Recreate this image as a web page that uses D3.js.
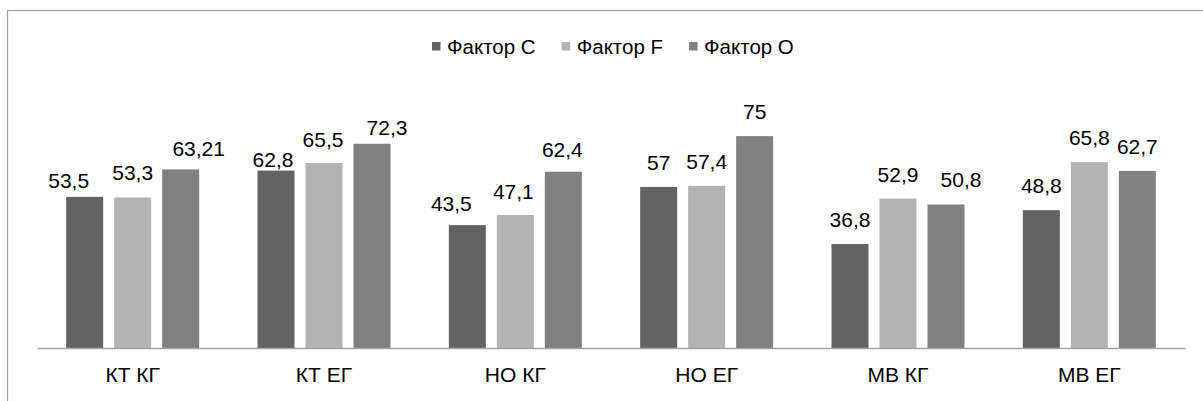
<!DOCTYPE html>
<html>
<head>
<meta charset="utf-8">
<script src="https://cdn.jsdelivr.net/npm/d3@7"></script>
<style>
  body { margin: 0; background: #fff; }
  svg { display: block; font-family: 'Liberation Sans', Arial, sans-serif; }
</style>
</head>
<body>
<svg id="chart" width="1203" height="401"></svg>
<script>
// categories and series
const categories = ['КТ КГ', 'КТ ЕГ', 'НО КГ', 'НО ЕГ', 'МВ КГ', 'МВ ЕГ']
const seriesNames = ['Фактор С', 'Фактор F', 'Фактор О']
const factorC = [53.5, 62.8, 43.5, 57, 36.8, 48.8]
const factorF = [53.3, 65.5, 47.1, 57.4, 52.9, 65.8]
const factorO = [63.21, 72.3, 62.4, 75, 50.8, 62.7]
const valueLabels = [
  ['53,5', '62,8', '43,5', '57', '36,8', '48,8'],
  ['53,3', '65,5', '47,1', '57,4', '52,9', '65,8'],
  ['63,21', '72,3', '62,4', '75', '50,8', '62,7']
]

// labels were dragged by hand in the original, so nudge them (px) per category
const labelNudgeX = [[-16, 0, 18], [-3, -1, 15], [-16, -2, -1], [0, 0, 0], [0, 0, 15], [0, 0, 0]]
const labelNudgeY = [[8, 0, 4], [13, 1, 8], [3, 1, 2], [0, 0, 0], [0, 0, 0], [0, 0, 0]]

const colors = ['#636363', '#b3b3b3', '#818181']
const seriesValues = [factorC, factorF, factorO]

const svg = d3.select('#chart')

// outer chart frame (right and bottom run off the picture)
svg.append('rect')
  .attr('x', 7.5).attr('y', 10.5)
  .attr('width', 1210).attr('height', 400)
  .attr('fill', 'none')
  .attr('stroke', '#a0a0a0')
  .attr('stroke-width', 1.3)

const plot = { left: 37, right: 1185, top: 122, bottom: 348 }

const x = d3.scaleBand()
  .domain(categories)
  .range([plot.left, plot.right])

const groupW = 133
const xInner = d3.scaleBand()
  .domain(d3.range(seriesNames.length))
  .range([0, groupW])
  .paddingInner(11 / 48)

const y = d3.scaleLinear()
  .domain([0, 80])
  .range([plot.bottom, plot.top])

const groupOff = (x.bandwidth() - groupW) / 2

// bars
const groups = svg.append('g')
  .selectAll('g')
  .data(categories)
  .join('g')
  .attr('transform', (d) => 'translate(' + (x(d) + groupOff) + ',0)')

groups.selectAll('rect')
  .data((d, i) => seriesValues.map((vals, s) => ({ s: s, i: i, v: vals[i] })))
  .join('rect')
  .attr('x', (d) => xInner(d.s))
  .attr('y', (d) => y(d.v))
  .attr('width', xInner.bandwidth())
  .attr('height', (d) => y(0) - y(d.v))
  .attr('fill', (d) => colors[d.s])

// value labels
groups.selectAll('text')
  .data((d, i) => seriesValues.map((vals, s) => ({ s: s, i: i, v: vals[i] })))
  .join('text')
  .attr('x', (d) => xInner(d.s) + xInner.bandwidth() / 2 + labelNudgeX[d.i][d.s])
  .attr('y', (d) => y(d.v) - 17 + labelNudgeY[d.i][d.s])
  .attr('text-anchor', 'middle')
  .attr('font-size', 21)
  .attr('fill', '#000')
  .text((d) => valueLabels[d.s][d.i])

// x axis
const xAxis = svg.append('g')
  .attr('transform', 'translate(0,' + plot.bottom + ')')
  .call(d3.axisBottom(x).tickSize(0).tickSizeOuter(0))

xAxis.select('.domain')
  .attr('stroke', '#a6a6a6')
  .attr('stroke-width', 1.3)

xAxis.selectAll('text')
  .attr('y', 34)
  .attr('dy', 0)
  .attr('font-size', 21)
  .attr('font-family', "'Liberation Sans', Arial, sans-serif")
  .attr('fill', '#000')

// legend
const legend = svg.append('g')
let lx = 432
seriesNames.forEach((name, s) => {
  legend.append('rect')
    .attr('x', lx).attr('y', 42)
    .attr('width', 8.5).attr('height', 8.5)
    .attr('fill', colors[s])
  let t = legend.append('text')
    .attr('x', lx + 15).attr('y', 53.5)
    .attr('font-size', 20.5)
    .attr('fill', '#000')
    .text(name)
  lx += 15 + t.node().getComputedTextLength() + 26
})
</script>
</body>
</html>
